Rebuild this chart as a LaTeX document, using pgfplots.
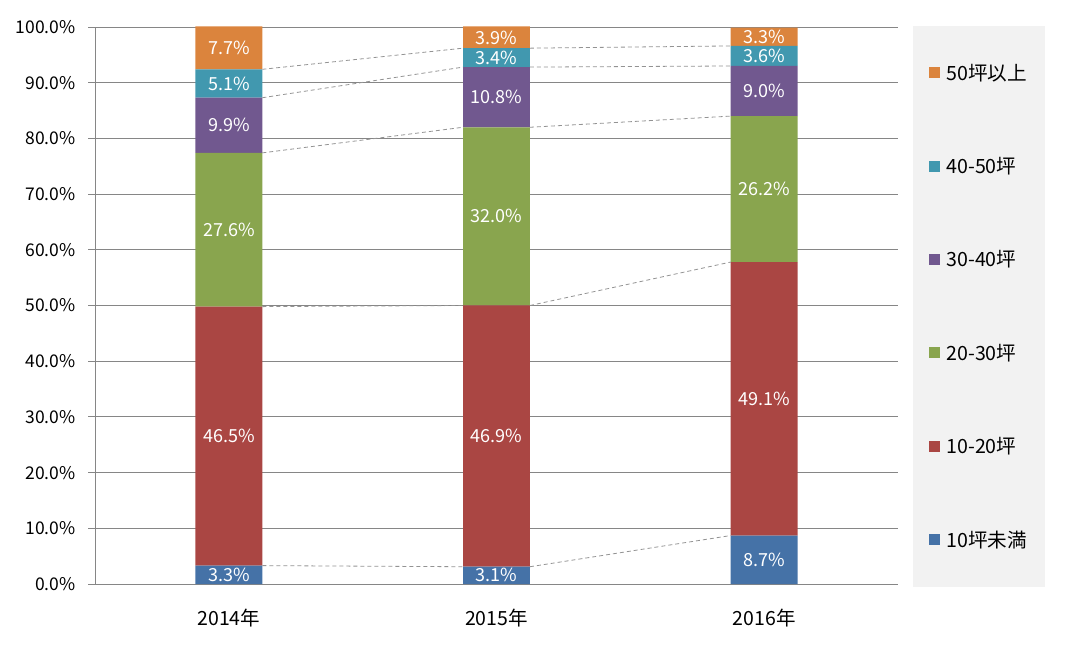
\documentclass[border=0pt]{standalone}
\usepackage{pgfplots}
\pgfplotsset{compat=1.18}
\usepackage{fontspec}
\setmainfont{Noto Sans CJK JP}
\definecolor{c1}{HTML}{4572A7}
\definecolor{c2}{HTML}{AA4643}
\definecolor{c3}{HTML}{89A54E}
\definecolor{c4}{HTML}{71588F}
\definecolor{c5}{HTML}{4198AF}
\definecolor{c6}{HTML}{DB843D}
\definecolor{gridc}{HTML}{868686}
\definecolor{legbg}{HTML}{F2F2F2}
\newcommand\tf{\fontsize{17.5pt}{20pt}\selectfont}
\newcommand\xf{\fontsize{19.5pt}{23pt}\selectfont}
\newcommand\lf{\fontsize{19.6pt}{23pt}\selectfont}
\newcommand\df{\fontsize{18pt}{21pt}\selectfont}
\pgfplotsset{
  base/.style={
    at={(95pt,80pt)}, anchor=south west,
    scale only axis, width=803pt, height=557pt,
    xmin=-0.5, xmax=2.5, ymin=0, ymax=100,
  },
  sl/.style={color=gray!85, dash pattern=on 4pt off 3pt, no markers, line width=0.8pt},
}
\begin{document}
\begin{tikzpicture}[x=1pt,y=1pt]
\path[use as bounding box] (0,0) rectangle (1070,664);
\begin{axis}[base,
  ybar stacked, bar width=0.25,
  xtick={0,1,2}, xticklabels={2014年,2015年,2016年},
  ytick={0,10,...,100},
  yticklabel={\pgfmathprintnumber[fixed,fixed zerofill,precision=1]{\tick}\%},
  /pgf/number format/assume math mode=true,
  yticklabel style={font=\tf, text=black, xshift=-9pt},
  xticklabel style={font=\xf, text=black, yshift=-15pt},
  ymajorgrids, grid style={gridc, line width=0.9pt},
  axis x line*=bottom, axis y line*=left,
  axis line style={gridc, line width=0.9pt, -},
  xtick style={draw=none},
  ytick style={gridc, line width=0.9pt},
  tick align=outside, major tick length=7pt,
  reverse legend,
  legend cell align=left,
  legend image code/.code={\fill[#1] (0pt,-5.5pt) rectangle (11pt,5.5pt);},
  legend style={at={(1.019,1.002)}, anchor=north west, fill=legbg, draw=none,
    font=\lf, row sep=71.6pt, inner xsep=16pt, inner ysep=36pt,
    /tikz/every odd column/.append style={column sep=4pt}},
]
\addplot[fill=c1, draw=none] coordinates {(0,3.3) (1,3.1) (2,8.7)};
\addplot[fill=c2, draw=none] coordinates {(0,46.5) (1,46.9) (2,49.1)};
\addplot[fill=c3, draw=none] coordinates {(0,27.6) (1,32.0) (2,26.2)};
\addplot[fill=c4, draw=none] coordinates {(0,9.9) (1,10.8) (2,9.0)};
\addplot[fill=c5, draw=none] coordinates {(0,5.1) (1,3.4) (2,3.6)};
\addplot[fill=c6, draw=none] coordinates {(0,7.7) (1,3.9) (2,3.3)};
\legend{10坪未満,10-20坪,20-30坪,30-40坪,40-50坪,50坪以上}
\end{axis}
\begin{axis}[base, hide axis, clip=false, unbounded coords=jump]
\addplot[sl] coordinates {(0.125,3.3) (0.875,3.1) (1,nan) (1.125,3.1) (1.875,8.7)};
\addplot[sl] coordinates {(0.125,49.8) (0.875,50.0) (1,nan) (1.125,50.0) (1.875,57.8)};
\addplot[sl] coordinates {(0.125,77.4) (0.875,82.0) (1,nan) (1.125,82.0) (1.875,84.0)};
\addplot[sl] coordinates {(0.125,87.3) (0.875,92.8) (1,nan) (1.125,92.8) (1.875,93.0)};
\addplot[sl] coordinates {(0.125,92.4) (0.875,96.2) (1,nan) (1.125,96.2) (1.875,96.6)};
\addplot[only marks, mark=none, nodes near coords, point meta=explicit symbolic,
  nodes near coords align=center,
  every node near coord/.append style={anchor=center, text=white, font=\df, inner sep=0pt}]
  table[meta=lab] {
x y lab
0 1.65 3.3\%
0 26.55 46.5\%
0 63.6 27.6\%
0 82.35 9.9\%
0 89.85 5.1\%
0 96.2 7.7\%
1 1.55 3.1\%
1 26.55 46.9\%
1 66.0 32.0\%
1 87.4 10.8\%
1 94.5 3.4\%
1 98.1 3.9\%
2 4.35 8.7\%
2 33.25 49.1\%
2 70.9 26.2\%
2 88.5 9.0\%
2 94.8 3.6\%
2 98.3 3.3\%
};
\end{axis}
\end{tikzpicture}
\end{document}
